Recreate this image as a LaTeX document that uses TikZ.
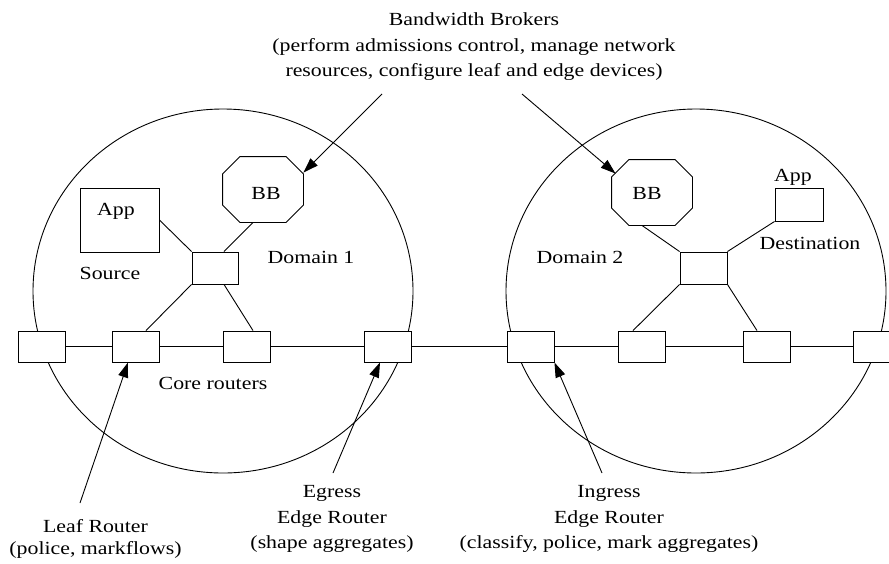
\documentclass[tikz,border=0pt]{standalone}
\usepackage{fontspec}
\setmainfont{Liberation Serif}[FakeStretch=1.18]
\usetikzlibrary{arrows.meta,calc}

\begin{document}
\begin{tikzpicture}[x=1pt,y=-1pt,line width=0.9pt,
  box/.style={draw,fill=white,inner sep=0pt,minimum width=47pt,minimum height=31pt},
  appbox/.style={draw,fill=white,inner sep=0pt},
  bbarea/.style={inner sep=0pt,minimum width=80pt,minimum height=65pt},
  lbl/.style={font=\fontsize{18.5}{25.5}\selectfont,inner sep=0pt,align=center},
  ptr/.style={-{Triangle[length=15pt,width=10pt]}}]

% page
\fill[white] (0,0) rectangle (889,563);
\useasboundingbox (0,0) rectangle (889,563);

% the two domains
\draw (223,291) ellipse [x radius=190pt, y radius=182pt];
\draw (696,291) ellipse [x radius=190pt, y radius=182pt];

% routers along the backbone
\node[box] (r1) at (41.5,346.5) {};
\node[box] (r2) at (136,346.5) {};
\node[box] (r3) at (247,346.5) {};
\node[box] (r4) at (388,346.5) {};
\node[box] (r5) at (530.5,346.5) {};
\node[box] (r6) at (641.5,346.5) {};
\node[box] (r7) at (766.5,346.5) {};
\node[box] (r8) at (877,346.5) {};
\foreach \a/\b in {r1/r2,r2/r3,r3/r4,r4/r5,r5/r6,r6/r7,r7/r8}
  \draw (\a) -- (\b);

% domain 1 contents
\node[appbox,minimum width=79pt,minimum height=64pt] (app1) at (119.5,220) {};
\node[box,minimum width=46pt,minimum height=32pt] (s1) at (215,268) {};
\node[bbarea] (bb1) at (263,189.5) {};
% domain 2 contents
\node[appbox,minimum width=48pt,minimum height=33pt] (app2) at (799,204.5) {};
\node[box,minimum width=47pt,minimum height=32pt] (s2) at (703.5,268) {};
\node[bbarea] (bb2) at (652,192.5) {};

% octagonal bandwidth brokers
\foreach \b in {bb1,bb2}
  \draw ($(\b.north west)+(17.5,0)$) -- ($(\b.north east)+(-17.5,0)$)
     -- ($(\b.north east)+(0,17.5)$) -- ($(\b.south east)+(0,-17.5)$)
     -- ($(\b.south east)+(-17.5,0)$) -- ($(\b.south west)+(17.5,0)$)
     -- ($(\b.south west)+(0,-17.5)$) -- ($(\b.north west)+(0,17.5)$) -- cycle;

% links inside domain 1
\draw (app1.east) -- (s1.north west);
\draw ($(bb1.south)+(-10,0)$) -- ($(s1.north)+(9,0)$);
\draw (s1.south west) -- ($(r2.north)+(10,0)$);
\draw ($(s1.south)+(9,0)$) -- ($(r3.north)+(6,0)$);
% links inside domain 2
\draw ($(bb2.south)+(-10,0)$) -- (s2.north west);
\draw (app2.south west) -- (s2.north east);
\draw (s2.south west) -- ($(r6.north)+(-8.5,0)$);
\draw (s2.south east) -- ($(r7.north)+(-9.5,0)$);

% labels
\node[lbl] (tApp1) at (116,211) {App};
\node[lbl] (tSrc) at (110,273) {Source};
\node[lbl] (tBB1) at (266,193) {BB};
\node[lbl] (tDom1) at (311,257) {Domain 1};
\node[lbl] (tDom2) at (580,257) {Domain 2};
\node[lbl] (tBB2) at (647,193) {BB};
\node[lbl] (tApp2) at (793,177) {App};
\node[lbl] (tDest) at (810,243) {Destination};
\node[lbl] (tCore) at (213,383) {Core routers};

\node[lbl] (tBrokers) at (474,47) {Bandwidth Brokers\\(perform admissions control, manage network\\resources, configure leaf and edge devices)};
\node[lbl,font=\fontsize{18.5}{22}\selectfont] (tLeaf) at (95.5,539) {Leaf Router\\(police, markflows)};
\node[lbl] (tEgress) at (332,519) {Egress\\Edge Router\\(shape aggregates)};
\node[lbl] (tIngress) at (609,519) {Ingress\\Edge Router\\(classify, police, mark aggregates)};

% pointers from the descriptions
\coordinate (pB1) at (382,94);
\coordinate (pB2) at (522,94);
\coordinate (pLeaf) at (80,503);
\coordinate (pEg) at (333,473);
\coordinate (pIn) at (602,473);
\draw[ptr] (pB1) -- ($(bb1.north east)+(0,16)$);
\draw[ptr] (pB2) -- ($(bb2.north west)+(4,14)$);
\draw[ptr] (pLeaf) -- ($(r2.south)+(-8,0)$);
\draw[ptr] (pEg) -- ($(r4.south)+(-8,0)$);
\draw[ptr] (pIn) -- (r5.south east);
\end{tikzpicture}
\end{document}
